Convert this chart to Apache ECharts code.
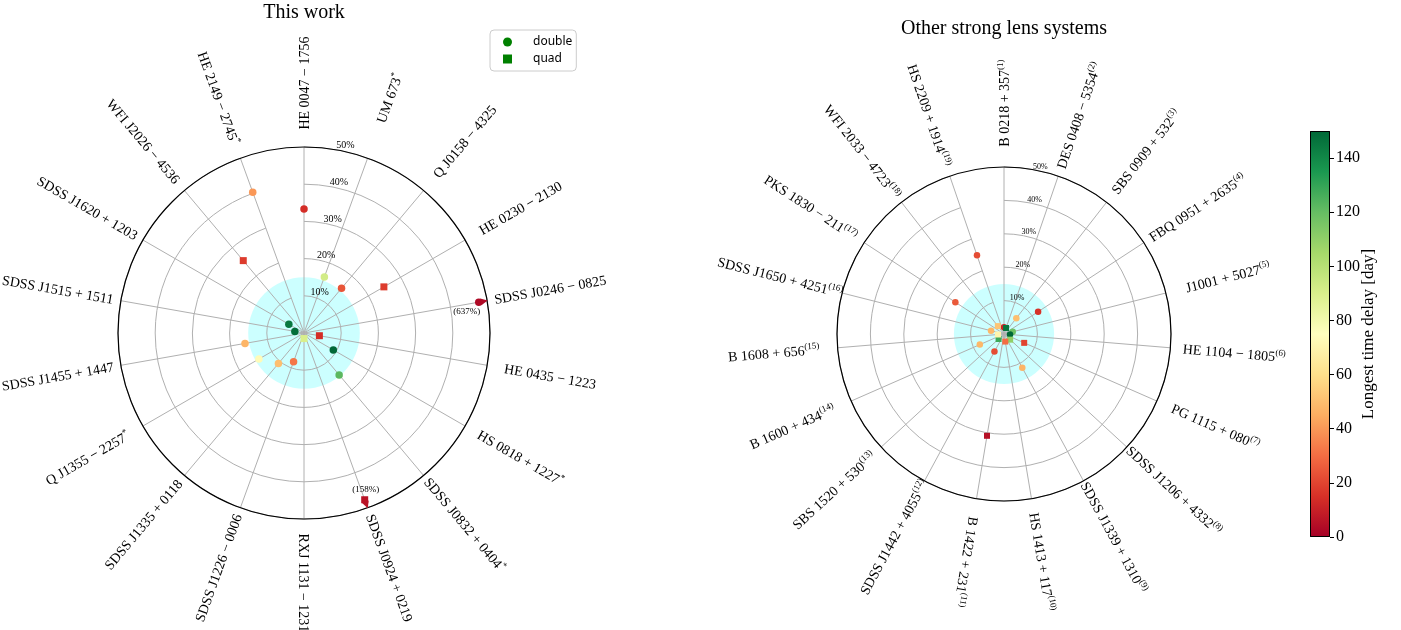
<!DOCTYPE html>
<html><head><meta charset="utf-8">
<script src="https://cdn.jsdelivr.net/npm/echarts@6/dist/echarts.min.js"></script>
<style>html,body{margin:0;padding:0;background:#fff}#c{width:1401px;height:630px}</style>
</head><body><div id="c"></div>
<script>
// ---------------- data ----------------
const leftNames = ['HE 0047 − 1756','UM 673^*','Q J0158 − 4325','HE 0230 − 2130','SDSS J0246 − 0825','HE 0435 − 1223','HS 0818 + 1227^*','SDSS J0832 + 0404^*','SDSS J0924 + 0219','RXJ 1131 − 1231','SDSS J1226 − 0006','SDSS J1335 + 0118','Q J1355 − 2257^*','SDSS J1455 + 1447','SDSS J1515 + 1511','SDSS J1620 + 1203','WFI J2026 − 4536','HE 2149 − 2745^*'];
const leftRatio = [33.3, 16.0, 15.7, 24.8, 637, 4.2, 9.1, 14.7, 158, 1.5, 8.2, 10.7, 14.0, 16.1, 2.5, 4.7, 25.4, 40.3];
const leftDelay = [14, 92, 24, 18, 3, 14, 150, 122, 6, 90, 32, 50, 73, 47, 148, 145, 18, 40];
const leftType = ['double','double','double','quad','double','quad','double','double','quad','quad','double','double','double','double','double','double','quad','double'];

const rightNames = ['B 0218 + 357^(1)','DES 0408 − 5354^(2)','SBS 0909 + 532^(3)','FBQ 0951 + 2635^(4)','J1001 + 5027^(5)','HE 1104 − 1805^(6)','PG 1115 + 080^(7)','SDSS J1206 + 4332^(8)','SDSS J1339 + 1310^(9)','HS 1413 + 117^(10)','B 1422 + 231^(11)','SDSS J1442 + 4055^(12)','SBS 1520 + 530^(13)','B 1600 + 434^(14)','B 1608 + 656^(15)','SDSS J1650 + 4251^(16)','PKS 1830 − 211^(17)','WFI 2033 − 4723^(18)','HS 2209 + 1914^(19)'];
const rightRatio = [2.0, 1.9, 6.0, 12.2, 2.7, 1.8, 6.6, 2.5, 11.5, 2.3, 30.9, 6.0, 2.2, 7.9, 1.8, 4.0, 17.4, 3.0, 24.9];
const rightDelay = [12, 145, 50, 15, 118, 150, 20, 110, 47, 30, 5, 22, 128, 48, 70, 48, 25, 52, 22];
const rightType = ['double','quad','double','double','double','double','quad','quad','double','quad','quad','double','quad','double','quad','double','double','quad','double'];

const radialTicks = [10, 20, 30, 40, 50];
const colorbarTicks = [0, 20, 40, 60, 80, 100, 120, 140];
const rdylgn = ['#a50026','#d73027','#f46d43','#fdae61','#fee08b','#ffffbf','#d9ef8b','#a6d96a','#66bd63','#1a9850','#006837'];

// ---------------- styling constants ----------------
const SERIF = 'Liberation Serif, DejaVu Serif, serif';
const RMAX = 50;
const CLIP = 47.7;          // where off-scale points are drawn
const HIGHLIGHT = 15;       // radius of cyan disk (%)
const GRID_GRAY = '#b0b0b0';

function pointData(ratio, delay, type, kind, n) {
  const out = [];
  ratio.forEach((r, i) => {
    if (type[i] !== kind) return;
    const item = { value: [Math.min(r, CLIP), i, delay[i]] };
    if (r > RMAX) {
      const theta = i * 360 / n;
      item.label = {
        show: true, formatter: '(' + r + '%)', fontSize: 9, fontFamily: SERIF, color: '#000',
        position: theta < 120 ? 'bottom' : 'top', offset: theta < 120 ? [-12, -2] : [1, 1], distance: 3
      };
    }
    out.push(item);
  });
  return out;
}
function arrowData(ratio, delay, n) {
  const out = [];
  ratio.forEach((r, i) => {
    if (r > RMAX) out.push({ value: [49.2, i, delay[i]], symbolRotate: -i * 360 / n });
  });
  return out;
}

function angleAxis(idx, names) {
  return {
    polarIndex: idx, type: 'category', data: names.map(s => s.replace('^', '')),
    startAngle: 90, clockwise: true, boundaryGap: false, z: 1,
    axisLine: { show: false },
    axisTick: { show: false }, axisLabel: { show: false },
    splitLine: { show: true, lineStyle: { color: GRID_GRAY, width: 1 } }
  };
}
function radiusAxis(idx) {
  return {
    polarIndex: idx, type: 'value', min: 0, max: RMAX, interval: 10, z: 0,
    axisLine: { show: false }, axisTick: { show: false }, axisLabel: { show: false },
    splitLine: { show: true, lineStyle: { color: GRID_GRAY, width: 1 } }
  };
}
const pointStyle = { opacity: 1 };

const chart = echarts.init(document.getElementById('c'));
const option = {
  backgroundColor: '#fff',
  animation: false,
  title: [
    { text: 'This work', left: 304, top: 3, textAlign: 'center', padding: 0,
      textStyle: { fontFamily: SERIF, fontSize: 20, fontWeight: 'normal', color: '#000' } },
    { text: 'Other strong lens systems', left: 1004, top: 19, textAlign: 'center', padding: 0,
      textStyle: { fontFamily: SERIF, fontSize: 20, fontWeight: 'normal', color: '#000' } }
  ],
  legend: {
    left: 490, top: 30, orient: 'vertical', selectedMode: false,
    itemWidth: 9, itemHeight: 9, itemGap: 5, padding: [6, 4, 6, 13],
    borderColor: '#cccccc', borderWidth: 1, borderRadius: 4,
    textStyle: { fontFamily: 'Noto Sans', fontSize: 12, color: '#000', padding: [0, 0, 0, 16] },
    data: [
      { name: 'double', icon: 'circle', itemStyle: { color: '#008000', opacity: 1 } },
      { name: 'quad', icon: 'rect', itemStyle: { color: '#008000', opacity: 1 } }
    ]
  },
  polar: [
    { center: [304, 333], radius: 186 },
    { center: [1004, 334], radius: 167 }
  ],
  angleAxis: [angleAxis(0, leftNames), angleAxis(1, rightNames)],
  radiusAxis: [radiusAxis(0), radiusAxis(1)],
  grid: { left: 1310, top: 131, width: 20, height: 406 },
  xAxis: { type: 'category', data: [''], show: false },
  yAxis: {
    type: 'value', min: 0, max: 150, position: 'right',
    axisLine: { show: false },
    axisTick: { show: true, inside: false, length: 4, lineStyle: { color: '#000' }, customValues: colorbarTicks },
    axisLabel: { color: '#000', fontFamily: SERIF, fontSize: 16, margin: 6, customValues: colorbarTicks },
    splitLine: { show: false },
    name: 'Longest time delay [day]', nameLocation: 'middle', nameRotate: 90, nameGap: 30,
    nameMoveOverlap: false,
    nameTextStyle: { fontFamily: SERIF, fontSize: 17, color: '#000' }
  },
  visualMap: {
    show: false, type: 'continuous', min: 0, max: 150, dimension: 2,
    seriesIndex: [0, 1, 2, 3, 4], inRange: { color: rdylgn }
  },
  series: [
    { name: 'double', type: 'scatter', coordinateSystem: 'polar', polarIndex: 0, symbol: 'circle', symbolSize: 7.5,
      itemStyle: pointStyle, data: pointData(leftRatio, leftDelay, leftType, 'double', leftNames.length), z: 3 },
    { name: 'quad', type: 'scatter', coordinateSystem: 'polar', polarIndex: 0, symbol: 'rect', symbolSize: 7,
      itemStyle: pointStyle, data: pointData(leftRatio, leftDelay, leftType, 'quad', leftNames.length), z: 3 },
    { name: 'arrow', type: 'scatter', coordinateSystem: 'polar', polarIndex: 0, symbol: 'triangle', symbolSize: [7, 7],
      itemStyle: pointStyle, data: arrowData(leftRatio, leftDelay, leftNames.length), z: 4 },
    { name: 'double', type: 'scatter', coordinateSystem: 'polar', polarIndex: 1, symbol: 'circle', symbolSize: 6.5,
      itemStyle: pointStyle, data: pointData(rightRatio, rightDelay, rightType, 'double', rightNames.length), z: 3 },
    { name: 'quad', type: 'scatter', coordinateSystem: 'polar', polarIndex: 1, symbol: 'rect', symbolSize: 6,
      itemStyle: pointStyle, data: pointData(rightRatio, rightDelay, rightType, 'quad', rightNames.length), z: 3 },
    { name: 'colorbar', type: 'bar', xAxisIndex: 0, yAxisIndex: 0, data: [150], barWidth: '100%', silent: true,
      itemStyle: { borderColor: '#000', borderWidth: 1, opacity: 1,
        color: { type: 'linear', x: 0, y: 1, x2: 0, y2: 0,
          colorStops: rdylgn.map((c, i) => ({ offset: i / (rdylgn.length - 1), color: c })) } } }
  ]
};
chart.setOption(option);

// ---------- labels, disk and outer ring, placed via the polar coordinate systems ----------
const elements = [];
function decorate(seriesIdx, names, labelFactor, tickFont) {
  const toPx = v => chart.convertToPixel({ seriesIndex: seriesIdx }, v);
  const n = names.length;
  const c = toPx([0, 0]);
  const top = toPx([RMAX, 0]);
  const R = Math.hypot(top[0] - c[0], top[1] - c[1]);
  const hr = toPx([HIGHLIGHT, 0]);
  elements.push({ type: 'circle', z: -10, silent: true,
    shape: { cx: c[0], cy: c[1], r: Math.hypot(hr[0] - c[0], hr[1] - c[1]) },
    style: { fill: 'rgba(0,255,255,0.2)' } });
  elements.push({ type: 'circle', z: 2, silent: true,
    shape: { cx: c[0], cy: c[1], r: R },
    style: { fill: null, stroke: '#000', lineWidth: 1.2 } });
  names.forEach((nm, i) => {
    const p = toPx([RMAX, i]);
    const dx = (p[0] - c[0]) / R, dy = (p[1] - c[1]) / R;
    const x = c[0] + dx * R * labelFactor, y = c[1] + dy * R * labelFactor;
    const phi = Math.atan2(-dy, dx);
    const theta = i * 360 / n;
    const rot = theta <= 195 ? phi : phi + Math.PI;
    const parts = nm.split('^');
    const txt = '{m|' + parts[0] + '}' + (parts[1] ? '{s|' + parts[1] + '}' : '');
    elements.push({ type: 'text', x: x, y: y, rotation: rot, silent: true,
      style: { text: txt, align: 'center', verticalAlign: 'middle', fill: '#000',
        rich: { m: { fontFamily: SERIF, fontSize: 14, lineHeight: 16, verticalAlign: 'bottom', fill: '#000' },
                s: { fontFamily: SERIF, fontSize: 9, lineHeight: 9, verticalAlign: 'top', fill: '#000' } } } });
  });
  const a = 10 * Math.PI / 180;
  radialTicks.forEach(t => {
    const q = toPx([t, 0]);
    const d = Math.hypot(q[0] - c[0], q[1] - c[1]);
    elements.push({ type: 'text', silent: true, z: 3, x: c[0] + d * Math.sin(a), y: c[1] - d * Math.cos(a) + 1,
      style: { text: t + '%', align: 'left', verticalAlign: 'bottom', fill: '#000', fontFamily: SERIF, fontSize: tickFont } });
  });
}
decorate(0, leftNames, 1.344, 10);
decorate(3, rightNames, 1.383, 8);
chart.setOption({ graphic: { elements: elements } });
</script></body></html>
